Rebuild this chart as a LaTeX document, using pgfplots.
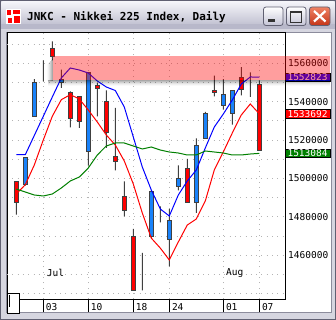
\documentclass[border=0pt]{standalone}
\usepackage{pgfplots}
\pgfplotsset{compat=1.18}
\usepackage{pgfplotstable}
\usepackage{fontspec}
\setmainfont{DejaVu Sans}
\setmonofont{DejaVu Sans Mono}

\definecolor{cblue}{RGB}{25,130,250}
\definecolor{cred}{RGB}{255,0,0}
\definecolor{cdark}{RGB}{64,64,64}
\definecolor{mablue}{RGB}{0,0,255}
\definecolor{mared}{RGB}{255,0,0}
\definecolor{magreen}{RGB}{0,128,0}
\definecolor{frm}{RGB}{214,214,224}
\definecolor{frmdark}{RGB}{96,96,114}
\definecolor{frminner}{RGB}{140,140,156}
\definecolor{tbtop}{RGB}{248,248,252}
\definecolor{tbbot}{RGB}{184,184,202}
\definecolor{gridc}{RGB}{180,180,180}
\definecolor{btnbot}{RGB}{196,196,214}
\definecolor{closetop}{RGB}{240,130,100}
\definecolor{closebot}{RGB}{196,52,24}

\newcommand\lbl{\ttfamily\fontsize{9.5bp}{10bp}\selectfont}
\tikzset{valbox/.style={anchor=west, inner sep=0pt, minimum height=8.5bp, minimum width=44.5bp, text=white, draw=black, line width=0.6bp, font=\lbl}}

% day index i (0 = Jul 03), open, high, low, close
\pgfplotstableread{
i o h l c
-3 1498530 1498530 1481170 1487590
-2 1496790 1511030 1496270 1511030
-1 1532380 1551820 1532380 1550090
0 1557030 1561550 1550610 1557030
1 1567450 1571440 1561550 1563630
2 1549920 1556690 1547140 1551650
3 1544880 1545400 1526650 1531170
4 1542450 1542800 1526310 1529780
5 1514150 1555300 1506690 1554950
6 1548350 1549740 1532380 1546960
7 1539850 1545920 1515890 1524050
8 1511550 1536720 1504260 1508950
9 1490370 1498530 1480300 1483430
10 1469890 1473700 1441760 1441760
11 1448530 1461210 1441760 1448530
12 1469890 1493840 1469020 1493320
13 1481170 1485510 1477180 1481170
14 1468150 1484120 1454260 1478220
15 1495580 1506860 1493840 1499750
16 1505300 1510170 1487250 1487250
17 1487250 1520920 1482040 1517100
18 1520920 1534640 1520580 1533600
19 1545920 1553560 1542800 1544880
20 1538110 1551820 1535850 1543490
21 1533600 1545920 1528040 1545920
22 1552350 1558070 1543320 1546270
23 1549740 1555300 1542450 1549740
24 1548870 1551130 1514670 1514670
}\candles

\pgfplotstableread{
i blue red green
-3 1512400 1491930 1494530
-2 1512400 1496770 1492970
-1 1522400 1507030 1491410
0 1532400 1520050 1490890
1 1542450 1532400 1491930
2 1552340 1541040 1495050
3 1557550 1543650 1498700
4 1556510 1541410 1500780
5 1554950 1535680 1505470
6 1550780 1529430 1512240
7 1547660 1522660 1516930
8 1545830 1517450 1518490
9 1537240 1509120 1518490
10 1521620 1497140 1516930
11 1505990 1482030 1515370
12 1494010 1468950 1516410
13 1484120 1463760 1514840
14 1480470 1457550 1513800
15 1491410 1466930 1513280
16 1498700 1475780 1512240
17 1504430 1478910 1512240
18 1515890 1488280 1514320
19 1526820 1504430 1513800
20 1533590 1513800 1513280
21 1540890 1523700 1512240
22 1549220 1533070 1512240
23 1552870 1538800 1512760
24 1552823 1533692 1513084
}\mas

\pgfplotsset{chartax/.style={scale only axis, width=278bp, height=266bp,
  xmin=-4.033, xmax=26.856, ymin=1437240, ymax=1575781,
  at={(7bp,21bp)}, anchor=south west}}

\begin{document}
\begin{tikzpicture}
\useasboundingbox (0,0) rectangle (336bp,320bp);
% ---------- window chrome ----------
\begin{scope}[x=1bp,y=1bp]
  \fill[frm] (0,0) rectangle (336,320);
  \shade[top color=tbtop, bottom color=tbbot, rounded corners=6bp] (0,291) rectangle (336,320);
  \fill[tbbot] (0,291) rectangle (336,296);
  \draw[frmdark, line width=1bp] (0.5,0.5) rectangle (335.5,319.5);
  \fill[white] (7,8) rectangle (330.5,287);
  \draw[frminner, line width=1bp] (6,7.5) -- (6,287.5) -- (331,287.5) -- (331,7.5) -- cycle;
  % icon
  \fill[white] (6,296) rectangle (21,311);
  \fill[cred] (7,305) rectangle (11,310);
  \fill[cred] (13,306) rectangle (20,310);
  \fill[cred] (8,297) rectangle (12,302);
  \fill[cred] (14,297) rectangle (20,304);
  % title
  \node[anchor=base west, inner sep=0pt, font=\ttfamily\bfseries\fontsize{11bp}{12bp}\selectfont] at (27,299.5) {JNKC - Nikkei 225 Index, Daily};
  % buttons
  \path[draw=frmdark, top color=white, bottom color=btnbot, rounded corners=2.5bp, line width=0.8bp] (263.5,294.5) rectangle (283,313);
  \fill[black!80] (268,298) rectangle (275,300.5);
  \path[draw=frmdark, top color=white, bottom color=btnbot, rounded corners=2.5bp, line width=0.8bp] (286.5,294.5) rectangle (306,313);
  \draw[black!80, line width=1bp] (290.5,297.5) rectangle (301.5,308);
  \fill[black!80] (290,306.5) rectangle (302,308.5);
  \path[draw=frmdark, top color=closetop, bottom color=closebot, rounded corners=2.5bp, line width=0.8bp] (309.5,294.5) rectangle (330,313);
  \draw[white, line width=2.2bp] (314,298.5) -- (325.5,309) (314,309) -- (325.5,298.5);
\end{scope}
% ---------- main axis: frame, grid, ticks ----------
\begin{axis}[chartax,
  axis line style={black, line width=1bp},
  xtick={0,5,10,14,20,24}, xticklabels={03,10,18,24,01,07},
  xtick pos=left, xticklabel pos=left,
  ytick={1460000,1480000,1500000,1520000,1540000,1560000},
  ytick pos=right, yticklabel pos=right,
  minor y tick num=1,
  extra y ticks={1440000,1450000,1570000},
  extra y tick labels={},
  grid=both,
  major grid style={gridc, line width=0.8bp, dash pattern=on 0.8bp off 4.5bp},
  minor grid style={gridc, line width=0.8bp, dash pattern=on 0.8bp off 4.5bp},
  tick align=inside, major tick length=13bp, minor tick length=0pt,
  xtick style={black, line width=1bp, yshift=-13bp},
  ytick style={draw=none},
  xticklabel style={font=\lbl, anchor=north west, inner sep=0pt, xshift=2.5bp, yshift=-4.3bp},
  yticklabel style={font=\lbl, anchor=west, inner sep=0pt, xshift=3bp},
  scaled y ticks=false,
  yticklabel={\pgfmathprintnumber[fixed,1000 sep={},assume math mode=true]{\tick}},
]
\end{axis}
% ---------- candle wicks (low to high) ----------
\begin{axis}[chartax, hide axis, ybar stacked, bar width=1bp]
  \addplot[draw=none, fill=none] table[x=i, y=l] {\candles};
  \addplot[fill=cdark, draw=none] table[x=i, y expr={\thisrow{h}-\thisrow{l}}] {\candles};
\end{axis}
% ---------- candle bodies (open to close) ----------
\begin{axis}[chartax, hide axis, ybar stacked, bar width=4.2bp]
  \addplot[draw=none, fill=none] table[x=i, y expr={min(\thisrow{o},\thisrow{c})}] {\candles};
  \addplot[fill=cblue, draw=cdark, line width=1bp] table[x=i, y expr={max(\thisrow{c}-\thisrow{o},0)}] {\candles};
  \addplot[fill=cred, draw=cdark, line width=1bp] table[x=i, y expr={max(\thisrow{o}-\thisrow{c},0)}] {\candles};
\end{axis}
% ---------- moving averages and value boxes ----------
\begin{axis}[chartax, hide axis, clip mode=individual]
  \addplot[mablue, line width=1bp, no marks] table[x=i, y=blue] {\mas};
  \addplot[mared, line width=1bp, no marks] table[x=i, y=red] {\mas};
  \addplot[magreen, line width=1bp, no marks] table[x=i, y=green] {\mas};
  \node[valbox, fill=mablue] at (axis cs:26.856,1552823) {1552823};
  \node[valbox, fill=mared] at (axis cs:26.856,1533692) {1533692};
  \node[valbox, fill=magreen] at (axis cs:26.856,1513084) {1513084};
  \node[anchor=base west, inner sep=0pt, font=\lbl] at (axis cs:0.37,1449000) {Jul};
  \node[anchor=base west, inner sep=0pt, font=\lbl] at (axis cs:20.3,1449500) {Aug};
\end{axis}
% ---------- overlays: zone band with shadow, scroll box ----------
\begin{scope}[x=1bp,y=1bp]
  \foreach \k/\op in {0/0.34,1/0.26,2/0.18,3/0.11,4/0.06,5/0.025}{
    \fill[black, opacity=\op] (47.5,238.5-\k) rectangle (330,239.5-\k);
    \fill[black, opacity=\op] (51.5-\k,238.5) rectangle (52.5-\k,260.5-\k);
  }
  \fill[red, opacity=0.38] (52.5,239.5) rectangle (330,263.5);
  \draw[black, line width=1bp, fill=white] (7,7) rectangle (19.3,26.7);
  \draw[black, line width=0.8bp] (9,13) -- (9,25);
\end{scope}
\end{tikzpicture}
\end{document}
